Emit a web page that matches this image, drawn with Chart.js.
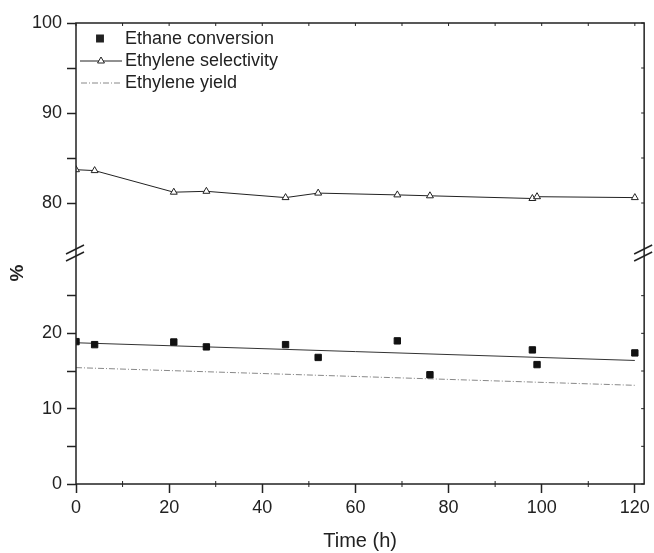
<!DOCTYPE html>
<html lang="en">
<head>
    <meta charset="UTF-8">
    <title>Ethane conversion over time</title>
    <script src="https://cdn.jsdelivr.net/npm/chart.js"></script>
    <style>
        body { margin: 0; background: #fff; }
        #chart { display: block; }
    </style>
</head>
<body>

<canvas id="chart" width="654" height="553"></canvas>

<script>
    // Values
    const times = [0, 4, 21, 28, 45, 52, 69, 76, 98, 99, 120];
    const conversion = [18.9, 18.5, 18.85, 18.2, 18.5, 16.8, 19.0, 14.5, 17.8, 15.85, 17.4];
    const selectivity = [83.7, 83.6, 81.2, 81.3, 80.6, 81.1, 80.9, 80.8, 80.5, 80.7, 80.6];

    // straight lines (trend of conversion, ethylene yield)
    const lineTimes = [0, 120];
    const conversionTrend = [18.75, 16.4];
    const yieldLine = [15.45, 13.1];

    const xTicks = [0, 20, 40, 60, 80, 100, 120];
    const xMinorTicks = [10, 30, 50, 70, 90, 110];
    const lowTicks = [0, 5, 10, 15, 20, 25];
    const highTicks = [80, 85, 90, 95, 100];

    const ink = '#222';
    const family = '"Liberation Sans", Arial, sans-serif';

    const pts = (xs, ys) => xs.map((x, i) => ({ x: x, y: ys[i] }));

    const tickFont = { family: family, size: 18 };

    function yAxis(min, max, ticks, stackWeight, weight) {
        return {
            type: 'linear',
            position: 'left',
            stack: 'y',
            stackWeight: stackWeight,
            weight: weight,
            min: min,
            max: max,
            afterBuildTicks: s => { s.ticks = ticks.map(v => ({ value: v })); },
            ticks: {
                font: tickFont,
                color: ink,
                padding: 5,
                callback: v => (v % 10 === 0 ? v : '')
            },
            grid: { display: true, drawOnChartArea: false, drawTicks: true, tickLength: 9, tickColor: ink, tickWidth: 1.5 },
            border: { display: false },
            afterFit: s => { s.width = 76; }
        };
    }

    // frame, mirrored ticks, axis breaks, legend and the % title
    const decorations = {
        id: 'decorations',
        afterDatasetsDraw(chart) {
            const ctx = chart.ctx;
            const a = chart.chartArea;
            const x = chart.scales.x;
            const yl = chart.scales.yLow;
            const yh = chart.scales.yHigh;
            ctx.save();
            ctx.strokeStyle = ink;
            ctx.lineWidth = 1.5;
            ctx.strokeRect(a.left, a.top, a.right - a.left, a.bottom - a.top);

            ctx.lineWidth = 1;
            ctx.beginPath();
            // minor ticks on bottom axis
            xMinorTicks.forEach(v => {
                const px = x.getPixelForValue(v);
                ctx.moveTo(px, a.bottom - 3); ctx.lineTo(px, a.bottom + 3);
            });
            // top axis ticks
            xTicks.concat(xMinorTicks).forEach(v => {
                const px = x.getPixelForValue(v);
                ctx.moveTo(px, a.top); ctx.lineTo(px, a.top + 3);
            });
            // right axis ticks
            lowTicks.forEach(v => {
                const py = yl.getPixelForValue(v);
                ctx.moveTo(a.right - 3, py); ctx.lineTo(a.right, py);
            });
            highTicks.forEach(v => {
                const py = yh.getPixelForValue(v);
                ctx.moveTo(a.right - 3, py); ctx.lineTo(a.right, py);
            });
            ctx.stroke();

            // break marks
            const mid = (yl.top + yh.bottom) / 2;
            ctx.lineWidth = 1.5;
            [a.left, a.right].forEach(ax => {
                [-3.5, 3.5].forEach(off => {
                    ctx.beginPath();
                    ctx.moveTo(ax - 10, mid + off + 4.5);
                    ctx.lineTo(ax + 8, mid + off - 4.5);
                    ctx.stroke();
                });
            });

            // legend
            const lx = a.left;
            const ly = a.top;
            ctx.font = '18px ' + family;
            ctx.fillStyle = ink;
            ctx.textBaseline = 'alphabetic';
            const labels = chart.data.datasets.filter(d => d.legend).map(d => d.label);
            const items = [
                { label: labels[0], y: ly + 15.5 },
                { label: labels[1], y: ly + 38 },
                { label: labels[2], y: ly + 60 }
            ];
            items.forEach(it => ctx.fillText(it.label, lx + 49, it.y + 5));

            Chart.helpers.drawPoint(ctx, { pointStyle: 'rect', radius: 4.5, borderWidth: 1 }, lx + 24, items[0].y);

            ctx.strokeStyle = ink;
            ctx.lineWidth = 1;
            ctx.beginPath();
            ctx.moveTo(lx + 4, items[1].y); ctx.lineTo(lx + 46, items[1].y);
            ctx.stroke();
            ctx.fillStyle = '#fff';
            Chart.helpers.drawPoint(ctx, { pointStyle: 'triangle', radius: 4, borderWidth: 1 }, lx + 25, items[1].y);

            ctx.strokeStyle = '#888';
            ctx.setLineDash([6, 2, 1, 2]);
            ctx.beginPath();
            ctx.moveTo(lx + 5, items[2].y); ctx.lineTo(lx + 45, items[2].y);
            ctx.stroke();
            ctx.setLineDash([]);

            // y title
            ctx.translate(18, 273);
            ctx.rotate(-Math.PI / 2);
            ctx.font = 'bold 19px ' + family;
            ctx.fillStyle = ink;
            ctx.textAlign = 'center';
            ctx.textBaseline = 'middle';
            ctx.fillText('%', 0, 0);
            ctx.restore();
        }
    };

    const ctx = document.getElementById('chart').getContext('2d');

    new Chart(ctx, {
        type: 'line',
        data: {
            datasets: [
                {
                    label: 'Ethane conversion',
                    legend: true,
                    data: pts(times, conversion),
                    yAxisID: 'yLow',
                    showLine: false,
                    pointStyle: 'rect',
                    pointRadius: 4.5,
                    pointBackgroundColor: '#111',
                    pointBorderColor: '#111',
                    pointBorderWidth: 1
                },
                {
                    label: 'Ethylene selectivity',
                    legend: true,
                    data: pts(times, selectivity),
                    yAxisID: 'yHigh',
                    borderColor: ink,
                    borderWidth: 1,
                    pointStyle: 'triangle',
                    pointRadius: 4,
                    pointBackgroundColor: '#fff',
                    pointBorderColor: ink,
                    pointBorderWidth: 1
                },
                {
                    label: 'Ethylene yield',
                    legend: true,
                    data: pts(lineTimes, yieldLine),
                    yAxisID: 'yLow',
                    borderColor: '#888',
                    borderWidth: 1,
                    borderDash: [6, 2, 1, 2],
                    pointRadius: 0
                },
                {
                    label: 'Conversion trend',
                    data: pts(lineTimes, conversionTrend),
                    yAxisID: 'yLow',
                    borderColor: '#333',
                    borderWidth: 1,
                    pointRadius: 0
                }
            ]
        },
        options: {
            responsive: false,
            animation: false,
            layout: { padding: { top: 23, right: 9, left: 0, bottom: 0 } },
            plugins: {
                legend: { display: false },
                tooltip: { enabled: false }
            },
            scales: {
                x: {
                    type: 'linear',
                    position: 'bottom',
                    min: 0,
                    max: 122,
                    afterBuildTicks: s => { s.ticks = xTicks.map(v => ({ value: v })); },
                    ticks: { font: tickFont, color: ink, padding: 4, maxRotation: 0, autoSkip: false },
                    grid: { display: true, drawOnChartArea: false, drawTicks: true, tickLength: 9, tickColor: ink, tickWidth: 1.5 },
                    border: { display: false },
                    title: {
                        display: true,
                        text: 'Time (h)',
                        font: { family: family, size: 20 },
                        color: ink,
                        padding: { top: 0, bottom: 0 }
                    },
                    afterFit: s => { s.height = 69; }
                },
                yLow: yAxis(0, 30, lowTicks, 226, 1),
                yGap: {
                    type: 'linear',
                    position: 'left',
                    stack: 'y',
                    stackWeight: 10,
                    weight: 2,
                    min: 0,
                    max: 1,
                    ticks: { display: false },
                    grid: { display: false },
                    border: { display: false },
                    afterFit: s => { s.width = 76; }
                },
                yHigh: yAxis(75, 100, highTicks, 225, 3)
            }
        },
        plugins: [decorations]
    });
</script>

</body>
</html>
